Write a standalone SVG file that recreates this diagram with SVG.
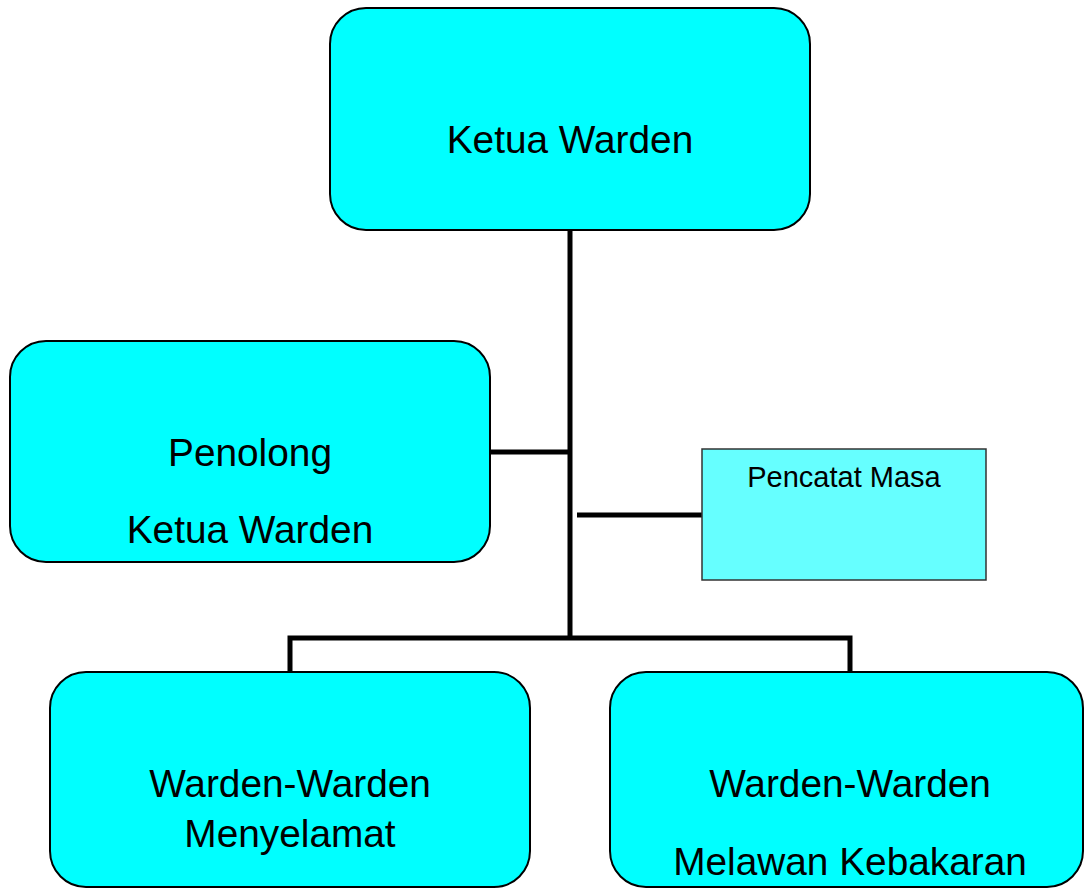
<svg xmlns="http://www.w3.org/2000/svg" width="1084" height="890" viewBox="0 0 1084 890">
<style>
.box{fill:#00FFFF;stroke:#000;stroke-width:2}
.small{fill:#66FFFF;stroke:#333;stroke-width:1.5}
.t{font-family:"Liberation Sans",Arial,sans-serif;font-size:38.8px;fill:#000;text-anchor:middle}
.ts{font-family:"Liberation Sans",Arial,sans-serif;font-size:29px;fill:#000;text-anchor:middle}
.c{stroke:#000;stroke-width:5;fill:none}
</style>
<rect width="1084" height="890" fill="#fff"/>
<g id="connectors">
<line class="c" x1="570" y1="230" x2="570" y2="640"/>
<line class="c" x1="490" y1="452" x2="570" y2="452"/>
<line class="c" x1="577" y1="515" x2="702" y2="515"/>
<polyline class="c" points="290,672 290,638 850,638 850,672"/>
</g>
<g id="ketua">
<rect class="box" x="330" y="8" width="480" height="222" rx="36"/>
<text class="t" x="570" y="153">Ketua Warden</text>
</g>
<g id="penolong">
<rect class="box" x="10" y="341" width="480" height="221" rx="36"/>
<text class="t" x="250" y="466">Penolong</text>
<text class="t" x="250" y="543">Ketua Warden</text>
</g>
<g id="pencatat">
<rect class="small" x="702" y="449" width="284" height="131"/>
<text class="ts" x="844" y="487">Pencatat Masa</text>
</g>
<g id="menyelamat">
<rect class="box" x="50" y="672" width="480" height="215" rx="36"/>
<text class="t" x="290" y="797">Warden-Warden</text>
<text class="t" x="290" y="847">Menyelamat</text>
</g>
<g id="kebakaran">
<rect class="box" x="610" y="672" width="473" height="215" rx="36"/>
<text class="t" x="850" y="797">Warden-Warden</text>
<text class="t" x="850" y="875">Melawan Kebakaran</text>
</g>
</svg>
